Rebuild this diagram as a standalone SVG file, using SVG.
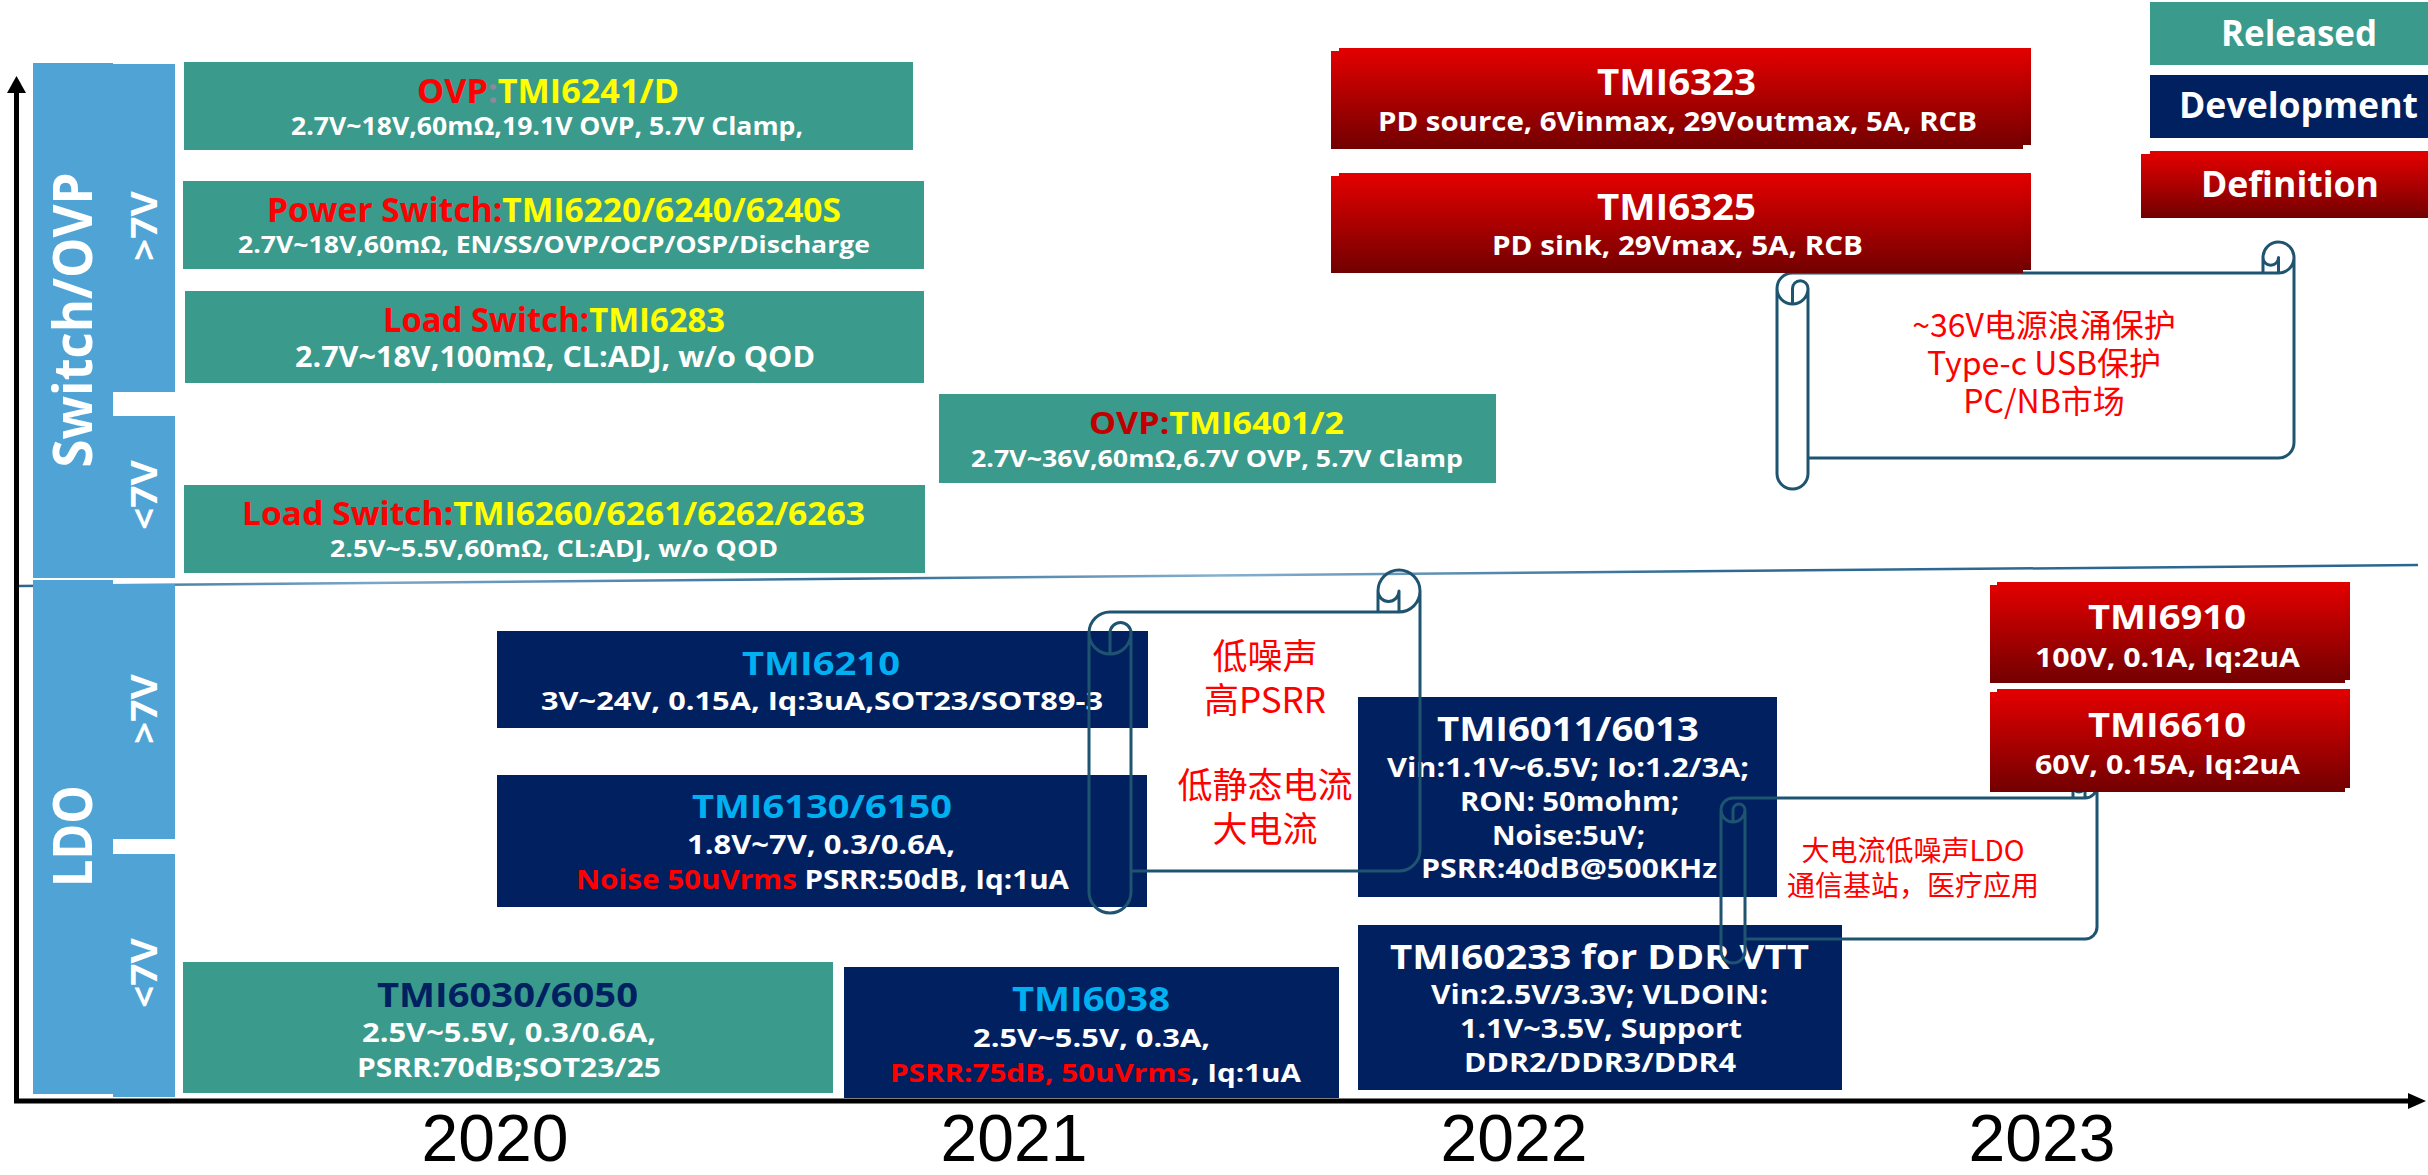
<svg xmlns="http://www.w3.org/2000/svg" width="2428" height="1175" viewBox="0 0 2428 1175">
<defs>
  <linearGradient id="redg" x1="0" y1="0" x2="0" y2="1">
    <stop offset="0" stop-color="#E20000"/>
    <stop offset="1" stop-color="#720000"/>
  </linearGradient>
  <linearGradient id="sepg" gradientUnits="userSpaceOnUse" x1="18" y1="0" x2="2418" y2="0">
    <stop offset="0" stop-color="#2B6690"/>
    <stop offset="0.15" stop-color="#7AA7C9"/>
    <stop offset="0.35" stop-color="#2F6A93"/>
    <stop offset="0.5" stop-color="#86B0CF"/>
    <stop offset="0.7" stop-color="#2F6A93"/>
    <stop offset="1" stop-color="#2B6690"/>
  </linearGradient>
</defs>
<style>
  .teal{fill:#3A9A8C}
  .navy{fill:#002060}
  .red{fill:url(#redg)}
  .bar{fill:#4FA3D5}
  text{font-family:"Open Sans","Noto Sans CJK SC",sans-serif;font-weight:700;fill:#FFFFFF}
  .cy{fill:#00B0F0}
  .rd{fill:#FF0000}
  .dr{fill:#C00000}
  .yl{fill:#FFFF00}
  .gy{fill:#8A8A9A}
  .nv{fill:#002060}
  .note{font-family:"Noto Sans CJK SC",sans-serif;font-weight:400;fill:#FF0000;text-anchor:middle}
  .year{font-family:"Liberation Sans",Arial,sans-serif;font-weight:400;fill:#000000;font-size:66px;text-anchor:middle}
  .scroll{fill:none;stroke:#1F5470;stroke-width:3;stroke-linejoin:round}
  .axis{stroke:#000000;stroke-width:5;fill:none}
</style>

<g id="axes">
  <line x1="18" y1="586" x2="2418" y2="565" stroke="url(#sepg)" stroke-width="2.5"/>
  <line class="axis" x1="16.5" y1="1099" x2="16.5" y2="90"/>
  <polygon points="7,93 26,93 16.5,76" fill="#000000"/>
  <line class="axis" x1="14" y1="1101" x2="2412" y2="1101"/>
  <polygon points="2408,1093 2426,1101 2408,1109" fill="#000000"/>
  <text class="year" x="495" y="1161">2020</text>
  <text class="year" x="1014" y="1161">2021</text>
  <text class="year" x="1514" y="1161">2022</text>
  <text class="year" x="2042" y="1161">2023</text>
</g>

<g id="lane-switch-ovp">
  <rect class="bar" x="33" y="63" width="80" height="515"/>
  <rect class="bar" x="113" y="64" width="62" height="328"/>
  <rect class="bar" x="113" y="416" width="62" height="162"/>
  <text transform="translate(92,320) rotate(-90)" x="-147.5" font-size="54" textLength="295" lengthAdjust="spacingAndGlyphs">Switch/OVP</text>
  <text transform="translate(157,226) rotate(-90)" x="-35" font-size="36" textLength="70" lengthAdjust="spacingAndGlyphs">&gt;7V</text>
  <text transform="translate(157,495) rotate(-90)" x="-35" font-size="36" textLength="70" lengthAdjust="spacingAndGlyphs">&lt;7V</text>
</g>

<g id="lane-ldo">
  <rect class="bar" x="33" y="580" width="80" height="514"/>
  <rect class="bar" x="113" y="584" width="62" height="255"/>
  <rect class="bar" x="113" y="854" width="62" height="243"/>
  <text transform="translate(92,836) rotate(-90)" x="-51" font-size="54" textLength="102" lengthAdjust="spacingAndGlyphs">LDO</text>
  <text transform="translate(157,709) rotate(-90)" x="-35" font-size="36" textLength="70" lengthAdjust="spacingAndGlyphs">&gt;7V</text>
  <text transform="translate(157,973) rotate(-90)" x="-35" font-size="36" textLength="70" lengthAdjust="spacingAndGlyphs">&lt;7V</text>
</g>

<g id="n-ovp6241">
  <rect class="teal" x="184" y="62" width="729" height="88"/>
  <text x="417" y="103" font-size="34" textLength="262" lengthAdjust="spacingAndGlyphs"><tspan class="rd">OVP</tspan><tspan class="gy">:</tspan><tspan class="yl">TMI6241/D</tspan></text>
  <text x="291" y="135" font-size="25" textLength="512" lengthAdjust="spacingAndGlyphs">2.7V~18V,60mΩ,19.1V OVP, 5.7V Clamp,</text>
</g>

<g id="n-ps6220">
  <rect class="teal" x="183" y="181" width="741" height="88"/>
  <text x="267" y="222" font-size="34" textLength="574" lengthAdjust="spacingAndGlyphs"><tspan class="rd">Power Switch:</tspan><tspan class="yl">TMI6220/6240/6240S</tspan></text>
  <text x="238" y="253" font-size="24" textLength="632" lengthAdjust="spacingAndGlyphs">2.7V~18V,60mΩ, EN/SS/OVP/OCP/OSP/Discharge</text>
</g>

<g id="n-ls6283">
  <rect class="teal" x="185" y="291" width="739" height="92"/>
  <text x="383" y="332" font-size="34" textLength="342" lengthAdjust="spacingAndGlyphs"><tspan class="rd">Load Switch:</tspan><tspan class="yl">TMI6283</tspan></text>
  <text x="295" y="367" font-size="28" textLength="520" lengthAdjust="spacingAndGlyphs">2.7V~18V,100mΩ, CL:ADJ, w/o QOD</text>
</g>

<g id="n-ls6260">
  <rect class="teal" x="184" y="485" width="741" height="88"/>
  <text x="242" y="525" font-size="33" textLength="623" lengthAdjust="spacingAndGlyphs"><tspan class="rd">Load Switch:</tspan><tspan class="yl">TMI6260/6261/6262/6263</tspan></text>
  <text x="330" y="557" font-size="23" textLength="448" lengthAdjust="spacingAndGlyphs">2.5V~5.5V,60mΩ, CL:ADJ, w/o QOD</text>
</g>

<g id="n-ovp6401">
  <rect class="teal" x="939" y="394" width="557" height="89"/>
  <text x="1089" y="434" font-size="31" textLength="255" lengthAdjust="spacingAndGlyphs"><tspan class="dr">OVP:</tspan><tspan class="yl">TMI6401/2</tspan></text>
  <text x="971" y="467" font-size="24" textLength="492" lengthAdjust="spacingAndGlyphs">2.7V~36V,60mΩ,6.7V OVP, 5.7V Clamp</text>
</g>

<g id="n-tmi6210">
  <rect class="navy" x="497" y="631" width="651" height="97"/>
  <text class="cy" x="742" y="675" font-size="33" textLength="158" lengthAdjust="spacingAndGlyphs">TMI6210</text>
  <text x="541" y="710" font-size="25" textLength="562" lengthAdjust="spacingAndGlyphs">3V~24V, 0.15A, Iq:3uA,SOT23/SOT89-3</text>
</g>

<g id="n-tmi6130">
  <rect class="navy" x="497" y="775" width="650" height="132"/>
  <text class="cy" x="692" y="818" font-size="33" textLength="260" lengthAdjust="spacingAndGlyphs">TMI6130/6150</text>
  <text x="687" y="854" font-size="26" textLength="268" lengthAdjust="spacingAndGlyphs">1.8V~7V, 0.3/0.6A,</text>
  <text x="576" y="889" font-size="26" textLength="493" lengthAdjust="spacingAndGlyphs"><tspan class="rd">Noise 50uVrms</tspan> PSRR:50dB, Iq:1uA</text>
</g>

<g id="n-tmi6030">
  <rect class="teal" x="183" y="962" width="650" height="131"/>
  <text class="nv" x="377" y="1007" font-size="34" textLength="261" lengthAdjust="spacingAndGlyphs">TMI6030/6050</text>
  <text x="362" y="1042" font-size="26" textLength="294" lengthAdjust="spacingAndGlyphs">2.5V~5.5V, 0.3/0.6A,</text>
  <text x="357" y="1077" font-size="26" textLength="304" lengthAdjust="spacingAndGlyphs">PSRR:70dB;SOT23/25</text>
</g>

<g id="n-tmi6038">
  <rect class="navy" x="844" y="967" width="495" height="131"/>
  <text class="cy" x="1012" y="1011" font-size="34" textLength="158" lengthAdjust="spacingAndGlyphs">TMI6038</text>
  <text x="973" y="1047" font-size="25" textLength="237" lengthAdjust="spacingAndGlyphs">2.5V~5.5V, 0.3A,</text>
  <text x="890" y="1082" font-size="25" textLength="411" lengthAdjust="spacingAndGlyphs"><tspan class="rd">PSRR:75dB, 50uVrms</tspan>, Iq:1uA</text>
</g>

<g id="n-tmi6011">
  <rect class="navy" x="1358" y="697" width="419" height="200"/>
  <text x="1437" y="741" font-size="34" textLength="262" lengthAdjust="spacingAndGlyphs">TMI6011/6013</text>
  <text x="1387" y="777" font-size="26" textLength="362" lengthAdjust="spacingAndGlyphs">Vin:1.1V~6.5V; Io:1.2/3A;</text>
  <text x="1460" y="811" font-size="26" textLength="219" lengthAdjust="spacingAndGlyphs">RON: 50mohm;</text>
  <text x="1492" y="845" font-size="26" textLength="153" lengthAdjust="spacingAndGlyphs">Noise:5uV;</text>
  <text x="1421" y="878" font-size="26" textLength="296" lengthAdjust="spacingAndGlyphs">PSRR:40dB@500KHz</text>
</g>

<g id="n-tmi60233">
  <rect class="navy" x="1358" y="925" width="484" height="165"/>
  <text x="1390" y="969" font-size="34" textLength="419" lengthAdjust="spacingAndGlyphs">TMI60233 for DDR VTT</text>
  <text x="1431" y="1004" font-size="26" textLength="337" lengthAdjust="spacingAndGlyphs">Vin:2.5V/3.3V; VLDOIN:</text>
  <text x="1460" y="1038" font-size="26" textLength="282" lengthAdjust="spacingAndGlyphs">1.1V~3.5V, Support</text>
  <text x="1464" y="1072" font-size="26" textLength="272" lengthAdjust="spacingAndGlyphs">DDR2/DDR3/DDR4</text>
</g>

<g id="scroll-a">
  <path class="scroll" d="M1089,633 A21,21 0 0 1 1110,612 L1378,612 L1378,591 A21,21 0 0 1 1420,591 L1420,850 A21,21 0 0 1 1399,871 L1131,871 L1131,892 A21,21 0 0 1 1089,892 Z M1378,612 L1399,612 A21,21 0 0 0 1420,591 M1399,612 L1399,591 A10.5,10.5 0 0 1 1378,591 M1110,654 L1110,633 A10.5,10.5 0 0 1 1131,633 A21,21 0 0 1 1089,633 M1131,633 L1131,871"/>
  <text class="note" font-size="35"><tspan x="1265" y="669">低噪声</tspan><tspan x="1265" y="713">高PSRR</tspan><tspan x="1265" y="798">低静态电流</tspan><tspan x="1265" y="842">大电流</tspan></text>
</g>

<g id="scroll-b">
  <path class="scroll" d="M1721,810 A12,12 0 0 1 1733,798 L2073,798 L2073,786 A12,12 0 0 1 2097,786 L2097,927 A12,12 0 0 1 2085,939 L1745,939 L1745,951 A12,12 0 0 1 1721,951 Z M2073,798 L2085,798 A12,12 0 0 0 2097,786 M2085,798 L2085,786 A6,6 0 0 1 2073,786 M1733,822 L1733,810 A6,6 0 0 1 1745,810 A12,12 0 0 1 1721,810 M1745,810 L1745,939"/>
  <text class="note" font-size="28"><tspan x="1913" y="861">大电流低噪声LDO</tspan><tspan x="1913" y="896">通信基站，医疗应用</tspan></text>
</g>

<g id="scroll-c">
  <path class="scroll" d="M1777,288.5 A15.5,15.5 0 0 1 1792.5,273 L2263,273 L2263,257.5 A15.5,15.5 0 0 1 2294,257.5 L2294,442.5 A15.5,15.5 0 0 1 2278.5,458 L1808,458 L1808,473.5 A15.5,15.5 0 0 1 1777,473.5 Z M2263,273 L2278.5,273 A15.5,15.5 0 0 0 2294,257.5 M2278.5,273 L2278.5,257.5 A7.75,7.75 0 0 1 2263,257.5 M1792.5,304 L1792.5,288.5 A7.75,7.75 0 0 1 1808,288.5 A15.5,15.5 0 0 1 1777,288.5 M1808,288.5 L1808,458"/>
  <text class="note" font-size="32"><tspan x="2044" y="337">~36V电源浪涌保护</tspan><tspan x="2044" y="375">Type-c USB保护</tspan><tspan x="2044" y="413">PC/NB市场</tspan></text>
</g>

<g id="n-tmi6910">
  <rect class="red" x="1997" y="582" width="353" height="98"/>
  <rect class="red" x="1990" y="585" width="355" height="98"/>
  <text x="2088" y="629" font-size="34" textLength="158" lengthAdjust="spacingAndGlyphs">TMI6910</text>
  <text x="2035" y="667" font-size="27" textLength="265" lengthAdjust="spacingAndGlyphs">100V, 0.1A, Iq:2uA</text>
</g>

<g id="n-tmi6610">
  <rect class="red" x="1997" y="689" width="353" height="99"/>
  <rect class="red" x="1990" y="692" width="355" height="100"/>
  <text x="2088" y="737" font-size="34" textLength="158" lengthAdjust="spacingAndGlyphs">TMI6610</text>
  <text x="2035" y="774" font-size="27" textLength="265" lengthAdjust="spacingAndGlyphs">60V, 0.15A, Iq:2uA</text>
</g>

<g id="n-tmi6323">
  <rect class="red" x="1339" y="48" width="692" height="97"/>
  <rect class="red" x="1331" y="51" width="692" height="98"/>
  <text x="1597" y="95" font-size="35" textLength="159" lengthAdjust="spacingAndGlyphs">TMI6323</text>
  <text x="1378" y="131" font-size="27" textLength="599" lengthAdjust="spacingAndGlyphs">PD source, 6Vinmax, 29Voutmax, 5A, RCB</text>
</g>

<g id="n-tmi6325">
  <rect class="red" x="1339" y="173" width="692" height="97"/>
  <rect class="red" x="1331" y="176" width="692" height="97"/>
  <text x="1597" y="220" font-size="35" textLength="159" lengthAdjust="spacingAndGlyphs">TMI6325</text>
  <text x="1492" y="255" font-size="27" textLength="371" lengthAdjust="spacingAndGlyphs">PD sink, 29Vmax, 5A, RCB</text>
</g>

<g id="legend-released">
  <rect class="teal" x="2150" y="2" width="278" height="63"/>
  <text x="2221" y="46" font-size="35" textLength="156" lengthAdjust="spacingAndGlyphs">Released</text>
</g>
<g id="legend-development">
  <rect class="navy" x="2150" y="75" width="278" height="63"/>
  <text x="2179" y="118" font-size="35" textLength="239" lengthAdjust="spacingAndGlyphs">Development</text>
</g>
<g id="legend-definition">
  <rect class="red" x="2150" y="151" width="278" height="64"/>
  <rect class="red" x="2141" y="154" width="287" height="64"/>
  <text x="2201" y="197" font-size="35" textLength="178" lengthAdjust="spacingAndGlyphs">Definition</text>
</g>
</svg>
